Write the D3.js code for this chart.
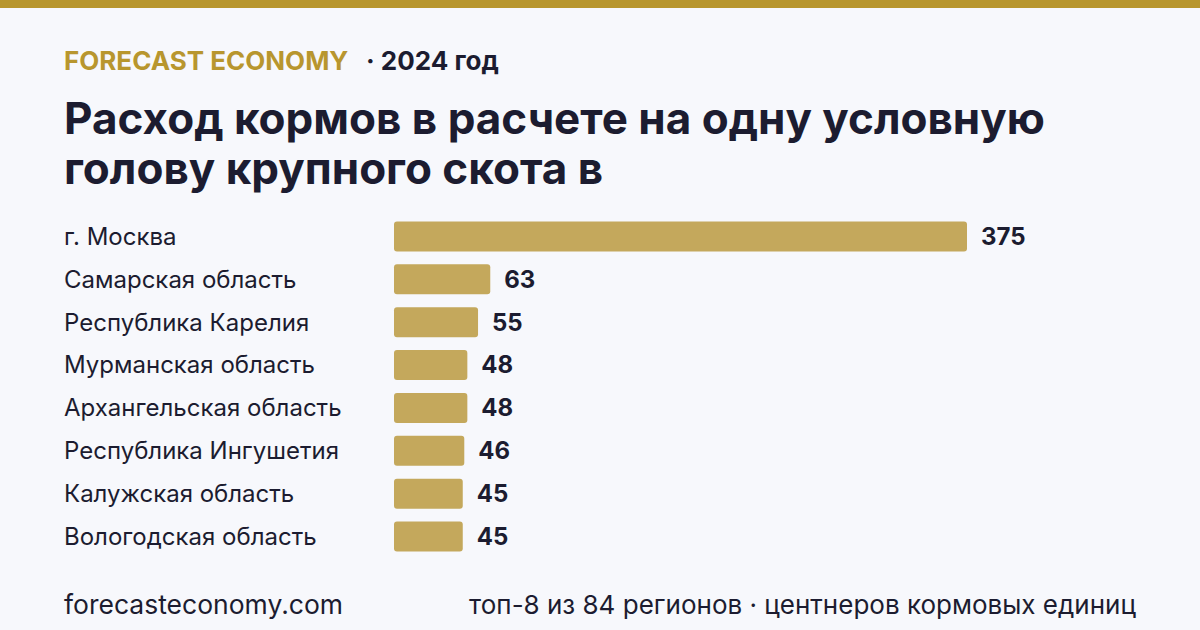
<!DOCTYPE html>
<html>
<head>
<meta charset="utf-8">
<script src="https://cdn.jsdelivr.net/npm/d3@7"></script>
<style>
  body { margin: 0; background: #f7f8fc; }
  svg { display: block; font-family: Inter, "Noto Sans", sans-serif; }
</style>
</head>
<body>
<div id="chart"></div>
<script>
// Data
const regions = ['г. Москва', 'Самарская область', 'Республика Карелия', 'Мурманская область',
  'Архангельская область', 'Республика Ингушетия', 'Калужская область', 'Вологодская область'];
const values = [375, 63, 55, 48, 48, 46, 45, 45];

const width = 1200, height = 630;
const gold = '#b8962e', barColor = '#c4a85c', ink = '#1c1c30';

const svg = d3.select('#chart').append('svg')
  .attr('width', width).attr('height', height);

svg.append('rect').attr('width', width).attr('height', height).attr('fill', '#f7f8fc');
svg.append('rect').attr('width', width).attr('height', 8).attr('fill', gold);

// header
const head = svg.append('text').attr('x', 64).attr('y', 70)
  .attr('font-size', 26).attr('font-weight', 700);
head.append('tspan').attr('fill', gold).text('FORECAST ECONOMY');
head.append('tspan').attr('fill', ink).attr('x', 366).text('· 2024 год');

const titleLines = ['Расход кормов в расчете на одну условную', 'голову крупного скота в'];
svg.selectAll('text.title').data(titleLines).enter().append('text')
  .attr('class', 'title')
  .attr('x', 64).attr('y', (d, i) => 134 + i * 50)
  .attr('font-size', 44).attr('font-weight', 700).attr('fill', ink)
  .text(d => d);

// scales
const x = d3.scaleLinear().domain([0, 375]).range([394, 967]);
const y = d3.scaleBand().domain(regions).range([215, 558]).paddingInner(0.3).paddingOuter(0.15);

const rows = svg.append('g').selectAll('g').data(regions).enter().append('g');

rows.append('text')
  .attr('x', 64).attr('y', d => y(d) + y.bandwidth() / 2)
  .attr('dy', '0.35em').attr('font-size', 24).attr('fill', ink)
  .text(d => d);

rows.append('rect')
  .attr('x', x(0)).attr('y', d => y(d))
  .attr('width', (d, i) => x(values[i]) - x(0))
  .attr('height', y.bandwidth())
  .attr('rx', 3).attr('fill', barColor);

rows.append('text')
  .attr('x', (d, i) => x(values[i]) + 14)
  .attr('y', d => y(d) + y.bandwidth() / 2)
  .attr('dy', '0.35em').attr('font-size', 24).attr('font-weight', 700).attr('fill', ink)
  .text((d, i) => values[i]);

// footer
svg.append('text').attr('x', 64).attr('y', 614)
  .attr('font-size', 26.5).attr('fill', ink).text('forecasteconomy.com');
svg.append('text').attr('x', 1136).attr('y', 614).attr('text-anchor', 'end')
  .attr('font-size', 26).attr('fill', ink).text('топ-8 из 84 регионов · центнеров кормовых единиц');
</script>
</body>
</html>
